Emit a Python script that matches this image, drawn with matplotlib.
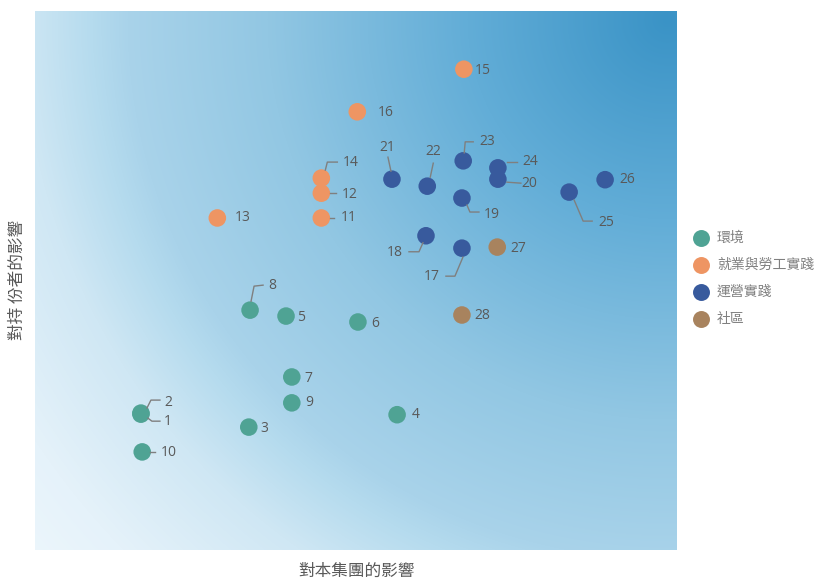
import numpy as np
import matplotlib
matplotlib.use("Agg")
import matplotlib.pyplot as plt
from matplotlib.lines import Line2D
from matplotlib.transforms import IdentityTransform
from matplotlib.colors import to_rgb

plt.rcParams['font.family'] = ['Open Sans', 'Noto Sans CJK TC', 'DejaVu Sans']

# ---- data ----
categories = ['環境', '就業與勞工實踐', '運營實踐', '社區']
cat_colors = ['#4FA394', '#EE9563', '#385A9D', '#A8835E']

ids = list(range(1, 29))
x_vals = [1.65, 1.65, 3.33, 5.64, 3.91, 5.03, 4.00, 3.35, 4.00, 1.67,
          4.46, 4.46, 2.84, 4.46, 6.68, 5.02, 6.65, 6.09, 6.65, 7.21,
          5.56, 6.11, 6.67, 7.21, 8.32, 8.88, 7.20, 6.65]
y_vals = [2.52, 2.54, 2.28, 2.51, 4.34, 4.23, 3.21, 4.45, 2.73, 1.82,
          6.16, 6.62, 6.16, 6.90, 8.92, 8.13, 5.60, 5.83, 6.53, 6.88,
          6.88, 6.75, 7.22, 7.09, 6.64, 6.87, 5.62, 4.36]
cat_idx = [0] * 10 + [1] * 6 + [2] * 10 + [3] * 2

# label placement (pixel offsets from dot centre, screen y down): dx, dy, ha
label_pos = {
    1: (23, 7, 'left'), 2: (23, -11, 'left'), 3: (12, 1, 'left'), 4: (15, 0, 'left'),
    5: (11, 1, 'left'), 6: (13, 1, 'left'), 7: (13, 2, 'left'), 8: (18, -25, 'left'),
    9: (13, 0, 'left'), 10: (19, 1, 'left'), 11: (19, 0, 'left'), 12: (20, 1, 'left'),
    13: (17, 0, 'left'), 14: (21, -16, 'left'), 15: (11, 1, 'left'), 16: (20, 1, 'left'),
    17: (-22, 28, 'right'), 18: (-23, 17, 'right'), 19: (22, 16, 'left'), 20: (23, 4, 'left'),
    21: (-5, -32, 'center'), 22: (6, -35, 'center'), 23: (16, -19, 'left'), 24: (24, -6, 'left'),
    25: (29, 30, 'left'), 26: (14, 0, 'left'), 27: (13, 1, 'left'), 28: (12, 1, 'left'),
}
# leader polylines (pixel offsets from dot centre, screen y down)
leaders = {
    1: [(7, 4), (11, 7), (19, 7)],
    2: [(6, -5), (10, -13), (19, -13)],
    8: [(1, -9), (4, -24), (13, -25)],
    10: [(8, 0), (13, 0)],
    11: [(9, 0), (13, 0)],
    12: [(9, 0), (15, 0)],
    14: [(4, -8), (6, -16), (16, -16)],
    17: [(1, 9), (-7, 28), (-16, 28)],
    18: [(-3, 7), (-7, 16), (-17, 16)],
    19: [(5, 7), (8, 14), (17, 14)],
    20: [(9, 3), (23, 4)],
    21: [(-4, -22), (-1, -8)],
    22: [(6, -23), (3, -9)],
    23: [(1, -8), (2, -19), (10, -19)],
    24: [(9, -6), (19, -6)],
    25: [(5, 8), (14, 29), (23, 29)],
}

W, H, DPI = 819, 579, 100
fig = plt.figure(figsize=(W / DPI, H / DPI), dpi=DPI)
fig.patch.set_facecolor('white')
L, R, T, B = 35, 677, 11, 550
ax = fig.add_axes([L / W, (H - B) / H, (R - L) / W, (B - T) / H])
ax.set_xlim(0, 10)
ax.set_ylim(0, 10)
for s in ax.spines.values():
    s.set_visible(False)
ax.set_xticks([])
ax.set_yticks([])

# ---- radial gradient background (centred near top-right) ----
pw, ph = R - L, B - T
xx, yy = np.meshgrid(np.arange(pw), np.arange(ph))
cx, cy = pw - 10, 8
d = np.sqrt((xx - cx) ** 2 + (yy - cy) ** 2)
stops_d = [0, 200, 400, 540, 575, 645, 760, 850]
stops_c = ['#3A93C6', '#62ADD7', '#92C7E3', '#A9D3EA', '#B5DBEE', '#CFE7F4', '#E5F2FA', '#EEF7FC']
img = np.zeros((ph, pw, 3))
rgb = np.array([to_rgb(c) for c in stops_c])
for k in range(3):
    img[..., k] = np.interp(d, stops_d, rgb[:, k])
ax.imshow(img, extent=(0, 10, 0, 10), aspect='auto', origin='upper', zorder=0)

# ---- points ----
for ci, cname in enumerate(categories):
    xs = [x for x, c in zip(x_vals, cat_idx) if c == ci]
    ys = [y for y, c in zip(y_vals, cat_idx) if c == ci]
    ax.scatter(xs, ys, s=160, color=cat_colors[ci], edgecolors='none', zorder=3, clip_on=False)

fig.canvas.draw()
label_color = '#595959'
line_color = '#7F7F7F'
for i, x, y in zip(ids, x_vals, y_vals):
    dx, dy, ha = label_pos[i]
    ax.annotate(str(i), (x, y), xytext=(dx * 0.72, -dy * 0.72), textcoords='offset points',
                ha=ha, va='center', fontsize=10, color=label_color, zorder=5)
    if i in leaders:
        px, py = ax.transData.transform((x, y))
        vx = [px + ox for ox, oy in leaders[i]]
        vy = [py - oy for ox, oy in leaders[i]]
        fig.add_artist(Line2D(vx, vy, transform=IdentityTransform(), color=line_color, lw=1.0, zorder=4))

# ---- axis titles ----
fig.text(356 / W, 1 - 571 / H, '對本集團的影響', ha='center', va='center', fontsize=12,
         color='#595959', family=['Noto Sans CJK TC', 'DejaVu Sans'])
fig.text(17 / W, 1 - 280 / H, '對持 份者的影響', ha='center', va='center', fontsize=12,
         rotation=90, color='#595959', family=['Noto Sans CJK TC', 'DejaVu Sans'])

# ---- legend ----
leg_y = [238, 265, 292, 319]
for ci, cname in enumerate(categories):
    fy = 1 - leg_y[ci] / H
    fig.add_artist(Line2D([701 / W], [fy], transform=fig.transFigure, marker='o', markersize=12.2,
                          color=cat_colors[ci], markeredgewidth=0, linestyle='none'))
    fig.text(717 / W, fy, cname, ha='left', va='center', fontsize=10, color='#808080',
             family=['Noto Sans CJK TC', 'DejaVu Sans'])

fig.savefig('out.png', dpi=DPI)
